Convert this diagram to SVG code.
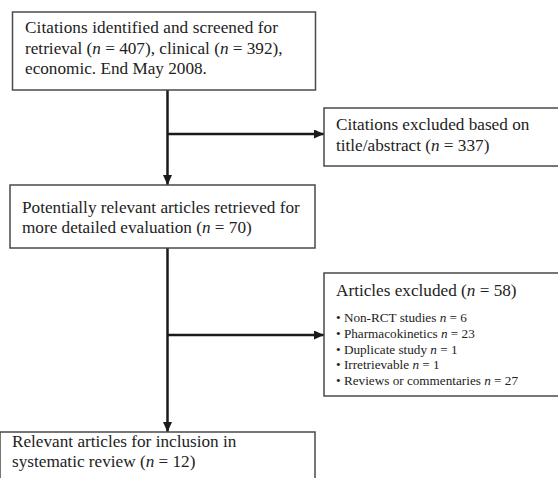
<svg xmlns="http://www.w3.org/2000/svg" width="558" height="478" viewBox="0 0 558 478">
<style>
.box{fill:#fff;stroke:#4a4a4a;stroke-width:1.5}
.t{font-family:"Liberation Serif","Times New Roman",serif;font-size:17.2px;fill:#222}
.s{font-family:"Liberation Serif","Times New Roman",serif;font-size:13.2px;fill:#222}
.c{stroke:#1a1a1a;stroke-width:2.5;fill:none}
</style>
<defs>
<marker id="ah" viewBox="0 0 10 10" refX="10" refY="5" markerWidth="4" markerHeight="3.6" orient="auto" markerUnits="strokeWidth" preserveAspectRatio="none">
<path d="M0,0 L10,5 L0,10 z" fill="#1a1a1a"/>
</marker>
</defs>
<rect width="558" height="478" fill="#fff"/>
<g id="connectors">
<line class="c" x1="167.5" y1="90" x2="167.5" y2="185" marker-end="url(#ah)"/>
<line class="c" x1="167.5" y1="134" x2="324" y2="134" marker-end="url(#ah)"/>
<line class="c" x1="167.5" y1="248" x2="167.5" y2="432" marker-end="url(#ah)"/>
<line class="c" x1="167.5" y1="335" x2="324" y2="335" marker-end="url(#ah)"/>
</g>
<g id="n1">
<rect class="box" x="12.5" y="12" width="303" height="78"/>
<text class="t" x="25" y="33" textLength="253" lengthAdjust="spacing">Citations identified and screened for</text>
<text class="t" x="25" y="54">retrieval (<tspan font-style="italic">n</tspan> = 407), clinical (<tspan font-style="italic">n</tspan> = 392),</text>
<text class="t" x="25" y="74">economic. End May 2008.</text>
</g>
<g id="n2">
<rect class="box" x="324" y="108" width="240" height="58"/>
<text class="t" x="336" y="130">Citations excluded based on</text>
<text class="t" x="336" y="151">title/abstract (<tspan font-style="italic">n</tspan> = 337)</text>
</g>
<g id="n3">
<rect class="box" x="10" y="185" width="305" height="63"/>
<text class="t" x="22" y="213">Potentially relevant articles retrieved for</text>
<text class="t" x="22" y="233">more detailed evaluation (<tspan font-style="italic">n</tspan> = 70)</text>
</g>
<g id="n4">
<rect class="box" x="324" y="273" width="240" height="123"/>
<text class="t" x="336" y="296">Articles excluded (<tspan font-style="italic">n</tspan> = 58)</text>
<text class="s" x="336" y="322">• Non-RCT studies <tspan font-style="italic">n</tspan> = 6</text>
<text class="s" x="336" y="338">• Pharmacokinetics <tspan font-style="italic">n</tspan> = 23</text>
<text class="s" x="336" y="354">• Duplicate study <tspan font-style="italic">n</tspan> = 1</text>
<text class="s" x="336" y="369">• Irretrievable <tspan font-style="italic">n</tspan> = 1</text>
<text class="s" x="336" y="385">• Reviews or commentaries <tspan font-style="italic">n</tspan> = 27</text>
</g>
<g id="n5">
<rect class="box" x="0" y="432" width="315" height="60"/>
<text class="t" x="12" y="447">Relevant articles for inclusion in</text>
<text class="t" x="12" y="467">systematic review (<tspan font-style="italic">n</tspan> = 12)</text>
</g>
</svg>
